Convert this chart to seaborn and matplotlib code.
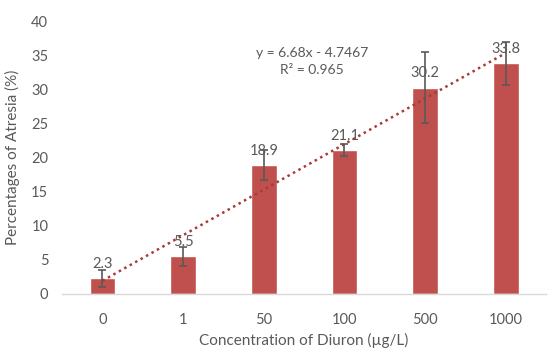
import numpy as np
import matplotlib
matplotlib.use("Agg")
import matplotlib.pyplot as plt
import seaborn as sns

# data
concentrations = ["0", "1", "50", "100", "500", "1000"]
atresia = [2.3, 5.5, 18.9, 21.1, 30.2, 33.8]
errors = [1.25, 1.45, 2.2, 0.85, 5.2, 3.2]
slope, intercept = 6.68, -4.7467
r2 = 0.965

sns.set_theme(style="white")
plt.rcParams['font.family'] = ['Lato', 'DejaVu Sans']

bar_color = "#C0504D"
text_color = "#595959"

fig = plt.figure(figsize=(5.5, 3.52), dpi=100)
ax = fig.add_axes([0.113, 0.165, 0.88, 0.775])

sns.barplot(x=concentrations, y=atresia, color=bar_color, width=0.32,
            saturation=1, errorbar=None, ax=ax)
xpos = np.arange(len(concentrations))
ax.errorbar(xpos, atresia, yerr=errors, fmt='none', ecolor=text_color,
            elinewidth=1.2, capsize=3, capthick=1.2, zorder=3)

# value labels
for x, v in zip(xpos, atresia):
    ax.text(x, v + 1.1, f"{v}", ha='center', va='bottom', fontsize=10.5,
            color=text_color, zorder=4)

# linear trendline (Excel style, x = 1..n)
trend = slope * (xpos + 1) + intercept
ax.plot(xpos, trend, linestyle=(0, (1, 1.5)), color="#A83A38", linewidth=1.8, zorder=2)
ax.text(2.6, 35.3, f"y = {slope}x - {abs(intercept)}", ha='center', va='center',
        fontsize=10, color=text_color)
ax.text(2.6, 32.8, f"R² = {r2}", ha='center', va='center',
        fontsize=10, color=text_color)

ax.set_ylim(0, 40)
ax.set_yticks(range(0, 41, 5))
ax.set_xlim(-0.5, len(concentrations) - 0.5)
ax.set_xlabel("Concentration of Diuron (µg/L)", fontsize=11, color=text_color, labelpad=4)
ax.set_ylabel("Percentages of Atresia (%)", fontsize=11, color=text_color, labelpad=8)
ax.tick_params(axis='y', length=0, labelsize=10.5, colors=text_color, pad=10)
ax.tick_params(axis='x', length=0, labelsize=10.5, colors=text_color, pad=14)
for s in ['top', 'right', 'left']:
    ax.spines[s].set_visible(False)
ax.spines['bottom'].set_color("#D9D9D9")
ax.spines['bottom'].set_linewidth(1)

plt.savefig("out.png", dpi=100)
